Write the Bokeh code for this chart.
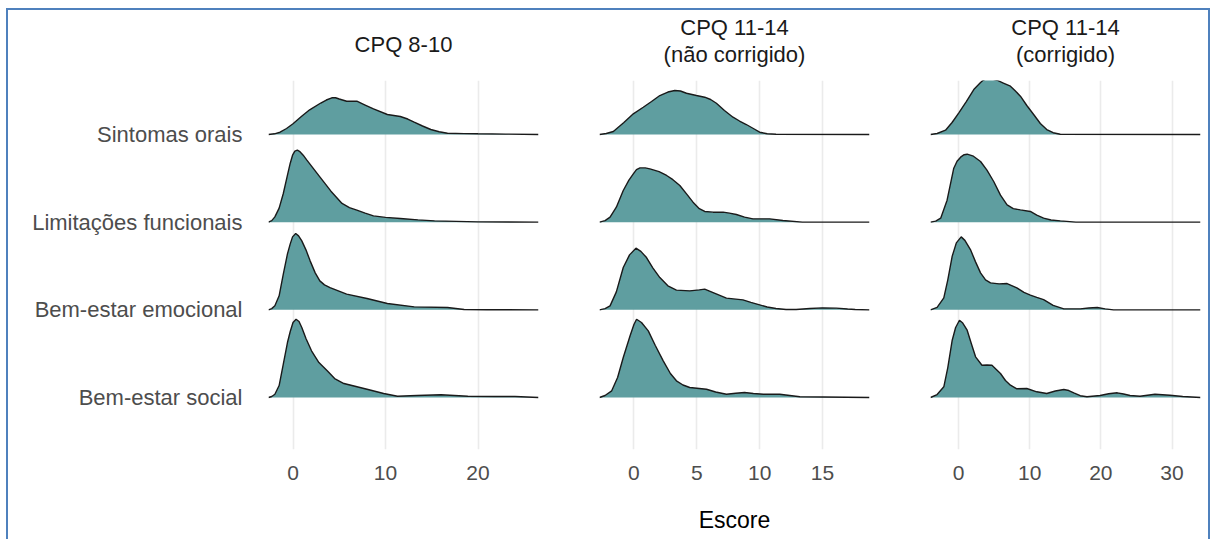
from bokeh.plotting import figure
from bokeh.layouts import row
from bokeh.models import Range1d, FixedTicker, LinearAxis
from bokeh.embed import file_html
from bokeh.resources import INLINE

# ---------------- data ----------------
categories = ["Sintomas orais", "Limitações funcionais", "Bem-estar emocional", "Bem-estar social"]  # top -> bottom
panel_titles = ["CPQ 8-10", "CPQ 11-14\n(não corrigido)", "CPQ 11-14\n(corrigido)"]
x_label = "Escore"

ticks_810 = [0, 10, 20]
ticks_1114_nc = [0, 5, 10, 15]
ticks_1114_c = [0, 10, 20, 30]

range_810 = (-2.65, 26.54)
range_1114_nc = (-2.74, 18.74)
range_1114_c = (-3.93, 34.0)

# density curves (score, relative density)
# CPQ 8-10
cpq810_sint_x = [-2.65, -2.0, -1.4, -0.7, 0.0, 0.9, 1.8, 3.0, 3.6, 4.2, 4.6, 5.0, 5.8, 6.9, 7.8, 8.7, 10.2, 11.6, 12.4, 13.1, 14.0, 14.9, 15.8, 16.7, 18.5, 20.0, 23.0, 26.54]
cpq810_sint_d = [0, 0.7, 2.3, 6, 10.7, 18, 24.7, 31.5, 34.5, 36.7, 36.8, 35.5, 33.3, 33.3, 29.5, 25.7, 20, 18, 15.5, 12.3, 8.5, 5, 2.8, 1.3, 0.9, 0.7, 0.4, 0]
cpq810_lim_x = [-2.65, -2.3, -1.96, -1.5, -1.05, -0.6, -0.3, -0.05, 0.2, 0.47, 0.75, 1.1, 1.5, 2.0, 2.9, 4.1, 5.3, 6.1, 6.9, 7.8, 8.7, 10.0, 11.6, 13.5, 15.3, 20.0, 26.54]
cpq810_lim_d = [0, 1.5, 5.3, 14, 28.7, 47, 59, 67, 71, 72, 70.5, 67, 62, 56, 45.3, 31, 18.7, 14.5, 12, 9, 6.3, 4.8, 3.7, 2.3, 1.3, 0.3, 0]
cpq810_emo_x = [-2.65, -2.3, -1.96, -1.5, -1.05, -0.6, -0.3, -0.05, 0.29, 0.6, 0.95, 1.4, 1.85, 2.4, 2.9, 3.4, 4.0, 5.8, 8.0, 10.2, 13.1, 16.7, 18.5, 21.0, 26.54]
cpq810_emo_d = [0, 1.2, 4, 14, 35.7, 56, 66, 73, 76.3, 74, 69, 60, 49, 37, 29, 25, 22.3, 15.7, 11.3, 6.3, 3, 2.3, 0.3, 0.1, 0]
cpq810_soc_x = [-2.65, -2.3, -1.96, -1.5, -1.05, -0.6, -0.3, 0.0, 0.33, 0.65, 0.95, 1.4, 2.0, 2.8, 3.7, 4.5, 5.5, 8.0, 9.8, 11.3, 13.4, 16.0, 18.9, 21.8, 24.0, 26.54]
cpq810_soc_d = [0, 1, 3.3, 12, 33.3, 55, 66, 75, 78.3, 76, 70, 59, 46.7, 35, 26.7, 19, 14, 8.3, 4, 1.3, 2, 2.7, 1.3, 1, 1, 0]

# CPQ 11-14 (não corrigido)
cpq1114nc_sint_x = [-2.74, -2.2, -1.64, -0.8, -0.05, 0.74, 1.4, 2.06, 2.7, 3.25, 3.7, 4.18, 4.97, 5.63, 6.1, 6.56, 7.2, 7.88, 8.4, 8.94, 9.5, 10.0, 10.6, 11.3, 18.74]
cpq1114nc_sint_d = [0, 1, 3, 12, 20.7, 27.3, 33, 39, 42.5, 44, 43.5, 41.3, 39, 37.3, 35, 31.3, 24, 17.3, 13.5, 10, 6, 2.3, 0.8, 0.3, 0]
cpq1114nc_lim_x = [-2.74, -2.3, -1.9, -1.4, -0.85, -0.4, -0.05, 0.2, 0.48, 0.9, 1.27, 2.0, 2.6, 3.1, 3.65, 4.2, 4.7, 5.2, 5.63, 6.3, 7.1, 7.6, 8.15, 8.8, 9.47, 10.8, 11.85, 13.4, 18.74]
cpq1114nc_lim_d = [0, 1.5, 5, 15, 31.7, 42, 48.3, 52.5, 54.3, 54.3, 53.3, 50.5, 46.7, 42.5, 36.7, 28, 20, 13.5, 10.7, 10, 10, 9, 7.7, 5, 3.3, 3.3, 1.7, 0, 0]
cpq1114nc_emo_x = [-2.74, -2.3, -1.9, -1.4, -0.85, -0.35, 0.16, 0.55, 1.0, 1.5, 2.06, 2.7, 3.38, 4.44, 5.2, 5.63, 6.3, 7.36, 8.67, 9.3, 10.0, 10.6, 11.3, 12.1, 12.9, 14.0, 15.0, 16.1, 17.0, 17.6, 18.74]
cpq1114nc_emo_d = [0, 1.2, 4, 18, 42.3, 55, 61.7, 58.5, 52.3, 42, 32.3, 24, 19.7, 19, 20, 20.7, 17.3, 11.7, 10, 7.5, 5, 2.8, 1.3, 0.4, 0.3, 1.3, 2, 1.7, 0.8, 0.3, 0]
cpq1114nc_soc_x = [-2.74, -2.3, -1.77, -1.3, -0.85, -0.3, 0.0, 0.21, 0.6, 1.14, 1.7, 2.33, 2.9, 3.38, 3.9, 4.44, 5.77, 6.5, 7.36, 8.1, 8.8, 9.5, 10.3, 11.6, 12.4, 13.2, 18.74]
cpq1114nc_soc_d = [0, 2, 6.7, 20, 40, 62, 73, 78.3, 75, 66.7, 52, 36.7, 24, 16.7, 12.5, 10, 8.3, 5.5, 3.3, 4.3, 5, 4, 3.3, 3.3, 2, 0.7, 0]

# CPQ 11-14 (corrigido)
cpq1114c_sint_x = [-3.93, -3.0, -1.82, -0.9, 0.05, 1.1, 2.15, 3.1, 3.5, 4.0, 4.7, 5.43, 6.3, 7.3, 8.0, 8.7, 9.6, 10.56, 11.5, 12.4, 13.3, 14.3, 34.0]
cpq1114c_sint_d = [0, 1, 4.3, 12, 21.7, 33, 45, 52, 54.5, 56, 55.5, 54.3, 51.5, 48.3, 43.5, 38.3, 29, 20, 11, 5, 1.8, 0.3, 0]
cpq1114c_lim_x = [-3.93, -3.2, -2.5, -1.6, -0.66, -0.2, 0.3, 0.8, 1.22, 2.1, 3.1, 4.0, 4.95, 5.9, 6.83, 7.7, 8.7, 10.1, 11.0, 11.96, 13.0, 14.3, 16.5, 34.0]
cpq1114c_lim_d = [0, 1, 4, 22, 54, 61, 65, 67.5, 68, 66, 60.7, 52, 40.7, 27, 17.3, 13.5, 12.3, 10.7, 7, 4, 2.2, 1.3, 0, 0]
cpq1114c_emo_x = [-3.93, -3.0, -2.06, -1.5, -0.88, -0.3, 0.38, 0.9, 1.68, 2.4, 3.1, 3.8, 4.5, 5.7, 6.83, 8.2, 9.2, 10.1, 11.0, 11.96, 13.3, 14.8, 17.1, 18.3, 19.5, 20.6, 21.8, 34.0]
cpq1114c_emo_d = [0, 2.5, 12, 30, 53.7, 67, 73, 69.5, 60.3, 48, 37, 30, 27, 26, 26.3, 22, 17.5, 14.7, 12.5, 10.3, 4.5, 1, 1, 1.8, 2.3, 1, 0, 0]
cpq1114c_soc_x = [-3.93, -3.0, -2.06, -1.5, -0.88, -0.4, 0.14, 0.6, 1.22, 1.8, 2.4, 3.3, 4.0, 4.7, 5.9, 6.6, 7.3, 8.2, 9.6, 11.0, 12.4, 13.6, 14.8, 15.5, 16.2, 17.1, 18.05, 19.9, 21.1, 22.3, 23.2, 24.1, 25.5, 27.6, 29.7, 31.5, 34.0]
cpq1114c_soc_d = [0, 3, 10.7, 30, 57.3, 70, 77.3, 74.5, 67.3, 54, 40.7, 32.3, 32.5, 32.3, 24, 17, 12.3, 8.7, 9, 5.7, 4, 6.5, 8, 7, 4.7, 1.8, 0.7, 2, 3.8, 4.7, 3.5, 2, 1.3, 3.3, 2.3, 1, 0]

panels = [
    dict(title=panel_titles[0], ticks=ticks_810, xr=range_810,
         curves=[(cpq810_sint_x, cpq810_sint_d), (cpq810_lim_x, cpq810_lim_d),
                 (cpq810_emo_x, cpq810_emo_d), (cpq810_soc_x, cpq810_soc_d)]),
    dict(title=panel_titles[1], ticks=ticks_1114_nc, xr=range_1114_nc,
         curves=[(cpq1114nc_sint_x, cpq1114nc_sint_d), (cpq1114nc_lim_x, cpq1114nc_lim_d),
                 (cpq1114nc_emo_x, cpq1114nc_emo_d), (cpq1114nc_soc_x, cpq1114nc_soc_d)]),
    dict(title=panel_titles[2], ticks=ticks_1114_c, xr=range_1114_c,
         curves=[(cpq1114c_sint_x, cpq1114c_sint_d), (cpq1114c_lim_x, cpq1114c_lim_d),
                 (cpq1114c_emo_x, cpq1114c_emo_d), (cpq1114c_soc_x, cpq1114c_soc_d)]),
]

# ---------------- style ----------------
FONT = "Liberation Sans"
FILL = "#5f9ea0"
LINE = "#1a1a1a"
GRID = "#ebebeb"
RIDGE_SCALE = 1 / 87.7
OFF_X, OFF_Y = 8, 10          # page frame (blue border) offset
widths = [568 - OFF_X, 331, 309]
lefts = [268 - OFF_X, 31, 31]
rights = [30, 30, 8]
title_standoffs = [24, 14, 14]
n = len(categories)
positions = {c: n - i for i, c in enumerate(categories)}

figs = []
for k, pnl in enumerate(panels):
    p = figure(width=widths[k], height=539 - OFF_Y, x_range=Range1d(*pnl["xr"]),
               y_range=Range1d(0.407, 4.616), output_backend="svg", toolbar_location=None,
               min_border_left=lefts[k], min_border_right=rights[k],
               min_border_top=80 - OFF_Y, min_border_bottom=90)
    p.title = None
    p.outline_line_color = None
    p.background_fill_color = None
    p.border_fill_color = None

    # ridges, top category first so lower ridges overlap
    for cat, (xs, ds) in zip(categories, pnl["curves"]):
        base = positions[cat]
        ys = [base + d * RIDGE_SCALE for d in ds]
        p.patch(list(xs) + [xs[-1], xs[0]], ys + [base, base], fill_color=FILL,
                line_color=None, fill_alpha=1)
        p.line(xs, ys, line_color=LINE, line_width=1.4)

    # x axis
    p.xaxis.ticker = FixedTicker(ticks=pnl["ticks"])
    p.xgrid.ticker = FixedTicker(ticks=pnl["ticks"])
    p.xgrid.grid_line_color = GRID
    p.xgrid.grid_line_width = 1.6
    p.xgrid.level = "underlay"
    p.ygrid.grid_line_color = None
    ax = p.xaxis[0]
    ax.axis_line_color = None
    ax.major_tick_line_color = None
    ax.minor_tick_line_color = None
    ax.major_label_text_font = FONT
    ax.major_label_text_font_size = "21px"
    ax.major_label_text_color = "#4d4d4d"
    ax.major_label_standoff = 10
    ax.axis_label = x_label if k == 1 else " "
    ax.axis_label_text_font = FONT
    ax.axis_label_text_font_size = "23px"
    ax.axis_label_text_font_style = "normal"
    ax.axis_label_text_color = "#000000"
    ax.axis_label_standoff = 24

    # y axis
    if k == 0:
        ya = p.yaxis[0]
        ya.ticker = FixedTicker(ticks=[positions[c] for c in categories])
        ya.major_label_overrides = {positions[c]: c for c in categories}
        ya.axis_line_color = None
        ya.major_tick_line_color = None
        ya.minor_tick_line_color = None
        ya.major_tick_out = 0
        ya.major_tick_in = 0
        ya.major_label_standoff = 26
        ya.major_label_text_font = FONT
        ya.major_label_text_font_size = "22px"
        ya.major_label_text_color = "#4d4d4d"
    else:
        p.yaxis.visible = False

    # strip title as a label-only axis above the panel
    strip = LinearAxis(ticker=FixedTicker(ticks=[]), axis_label=pnl["title"],
                       axis_line_color=None, major_tick_line_color=None,
                       minor_tick_line_color=None, major_tick_out=0, major_tick_in=0,
                       minor_tick_out=0, major_label_standoff=0,
                       axis_label_standoff=title_standoffs[k],
                       axis_label_text_font=FONT, axis_label_text_font_size="22px",
                       axis_label_text_font_style="normal", axis_label_text_color="#1a1a1a",
                       axis_label_text_line_height=1.05)
    p.add_layout(strip, "above")
    figs.append(p)

layout = row(*figs, margin=(OFF_Y - 2, 0, 0, OFF_X - 2),
             styles={"border-left": "2px solid #4f81bd", "border-top": "2px solid #4f81bd",
                     "border-right": "2px solid #4f81bd"})
open("out.html", "w").write(file_html(layout, INLINE))
